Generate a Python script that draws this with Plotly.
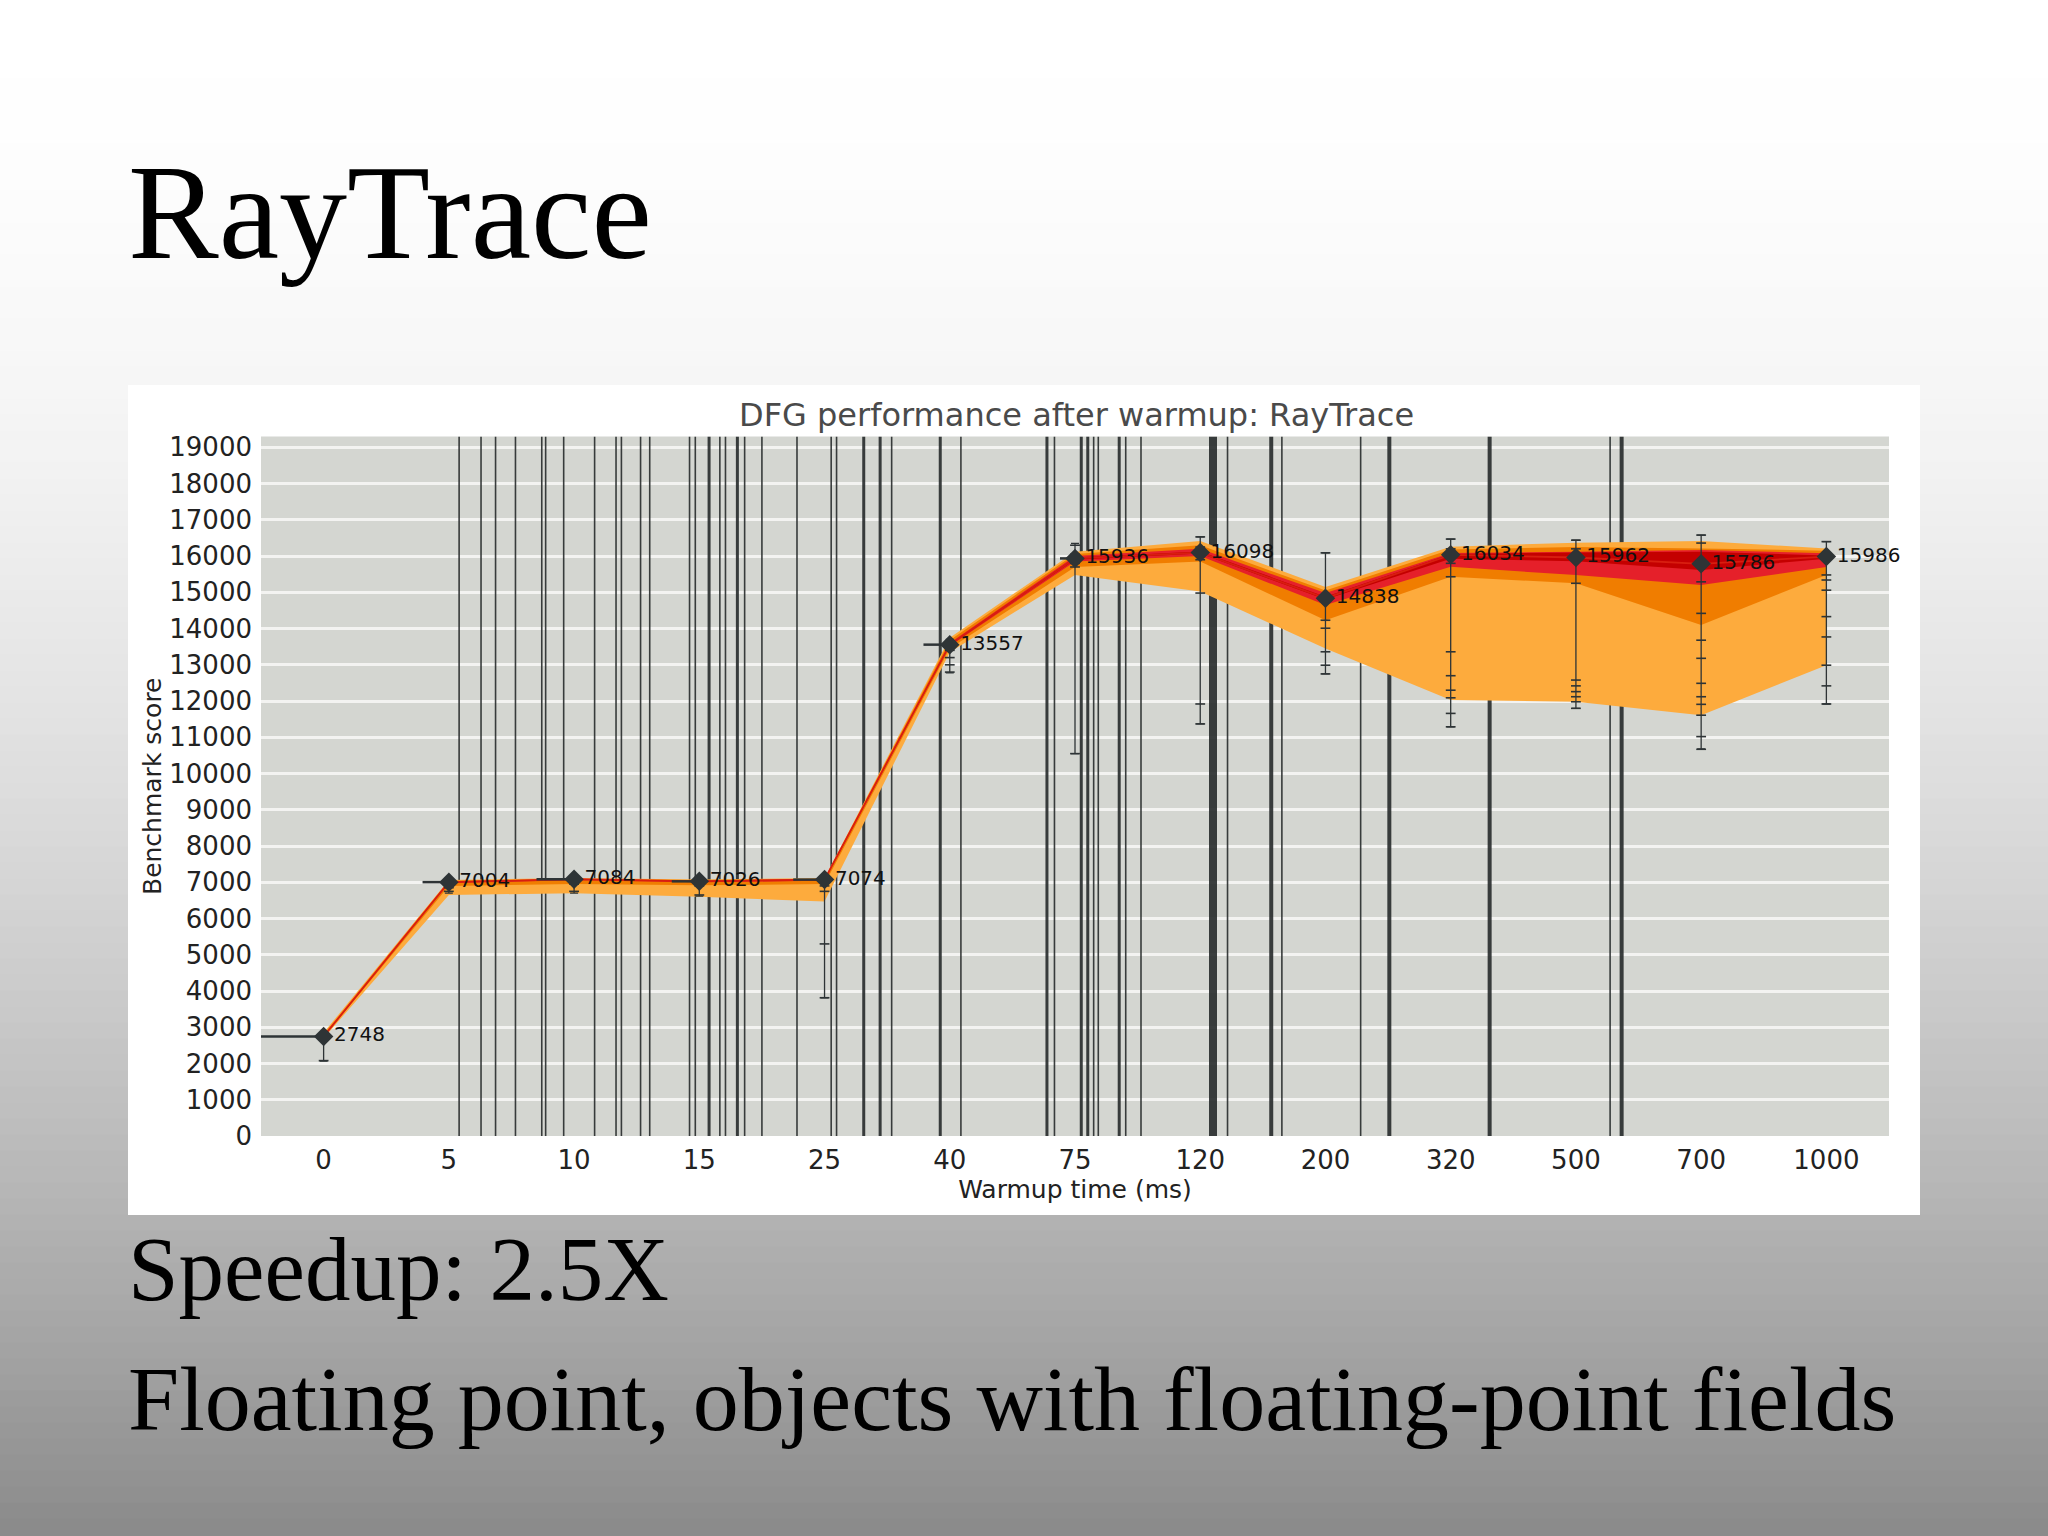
import plotly.graph_objects as go

# ---------------- data ----------------
categories = ["0", "5", "10", "15", "25", "40", "75", "120", "200", "320", "500", "700", "1000"]
mean_score = [2748, 7004, 7084, 7026, 7074, 13557, 15936, 16098, 14838, 16034, 15962, 15786, 15986]

p05 = [2700, 6650, 6700, 6600, 6470, 13350, 15480, 15020, 13450, 12030, 11980, 11610, 12990]
p95 = [2850, 7060, 7120, 7080, 7120, 13750, 16120, 16420, 15150, 16260, 16370, 16420, 16210]
p10 = [2720, 6900, 6950, 6920, 6950, 13450, 15700, 15850, 14230, 15430, 15250, 14100, 15480]
p90 = [2800, 7040, 7100, 7060, 7100, 13680, 16060, 16300, 15050, 16180, 16250, 16212, 16150]
p25 = [2735, 6980, 7060, 7000, 7040, 13520, 15850, 16000, 14650, 15705, 15476, 15200, 15700]
p75 = [2760, 7020, 7100, 7045, 7090, 13600, 16000, 16200, 14980, 16083, 16118, 16166, 16080]
p40 = [2745, 6995, 7075, 7018, 7065, 13550, 15900, 16070, 14800, 15930, 15860, 15614, 15930]
p60 = [2752, 7010, 7092, 7034, 7082, 13565, 15960, 16130, 14880, 16060, 16100, 16118, 16020]

whisk_hi = [2800, 7120, 7140, 7110, 7120, 13700, 16350, 16530, 16090, 16470, 16440, 16580, 16400]
whisk_lo = [2070, 6700, 6700, 6620, 3815, 12780, 10550, 11370, 12750, 11290, 11800, 10680, 11920]
left_span = [0.5, 0.21, 0.30, 0.22, 0.25, 0.21, 0.12, 0, 0, 0, 0, 0, 0]

sample_cat = ([0] * 3 + [1] * 4 + [2] * 3 + [3] * 3 + [4] * 4 + [5] * 4 + [6] * 5 + [7] * 6
              + [8] * 6 + [9] * 10 + [10] * 9 + [11] * 13 + [12] * 10)
sample_val = [2748, 2700, 2080,
              6750, 6850, 6950, 7050,
              6750, 6950, 7100,
              6650, 6900, 7050,
              6750, 6900, 5300, 3815,
              13400, 13200, 13000, 12800,
              16300, 16050, 15800, 15700, 10550,
              16530, 16250, 15900, 14980, 11920, 11370,
              16090, 14230, 14010, 13360, 12990, 12750,
              16470, 16200, 15800, 15430, 13360, 12700, 12300, 12090, 11660, 11290,
              16440, 16200, 15250, 12580, 12420, 12260, 12120, 11980, 11800,
              16580, 16360, 15800, 15290, 14420, 13680, 13180, 12490, 12120, 11910, 11610, 11020, 10670,
              16400, 16080, 15480, 15340, 15060, 14330, 13770, 12990, 12420, 11920]

# event markers (vertical lines) in category-axis units, with relative weight
event_x = [1.082, 1.257, 1.373, 1.532, 1.742, 1.773, 1.917, 2.164, 2.335, 2.378, 2.531, 2.604,
           2.922, 2.968, 3.078, 3.164, 3.209, 3.304, 3.362, 3.500, 3.780, 4.053, 4.096, 4.313,
           4.444, 4.536, 4.924, 5.089, 5.776, 5.836, 6.050, 6.102, 6.149, 6.186, 6.353, 6.405,
           6.527, 7.102, 7.218, 7.567, 7.652, 8.281, 8.510, 9.311, 10.273, 10.365]
event_weight = [1, 1, 1, 1, 1, 1, 1, 1, 1, 1, 1, 1,
                1, 1, 2, 1, 1, 2, 1, 1, 1, 1, 1, 2,
                2, 1, 2, 1, 2, 1, 2, 2, 1, 1, 2, 1,
                1, 5, 1, 3, 1, 1, 3, 3, 1, 3]

y_max = 19300
y_ticks = list(range(0, 19001, 1000))
y_ticktext = [str(v) for v in y_ticks]
chart_title = "DFG performance after warmup: RayTrace"
slide_title = "RayTrace"
slide_line1 = "Speedup: 2.5X"
slide_line2 = "Floating point, objects with floating-point fields"

# ---------------- layout geometry ----------------
W, H = 2048, 1536
def px(x):
    return x / W
def py(y):
    return 1 - y / H

x_dom = [px(261), px(1889)]
y_dom = [py(1136), py(436.5)]

DARK = "#2e3436"
LIGHT_OR = "#fdab3d"
ORANGE = "#f07d00"
RED = "#e5202a"
DRED = "#c40000"
FONT = "DejaVu Sans"
SERIF = "Liberation Serif"

idx = list(range(len(categories)))
fig = go.Figure()

# vertical event lines
width_map = {1: 1.6, 2: 3, 3: 4, 5: 8}
for w in sorted(set(event_weight)):
    xs, ys = [], []
    for ex, ew in zip(event_x, event_weight):
        if ew == w:
            xs += [ex, ex, None]
            ys += [0, y_max, None]
    fig.add_trace(go.Scatter(x=xs, y=ys, mode="lines", hoverinfo="skip",
                             line=dict(color="rgba(38,42,42,0.9)", width=width_map[w]),
                             showlegend=False))

# percentile bands
for lo, hi, col in [(p05, p95, LIGHT_OR), (p10, p90, ORANGE), (p25, p75, RED), (p40, p60, DRED)]:
    fig.add_trace(go.Scatter(x=idx, y=lo, mode="lines", line=dict(width=0, color=col),
                             showlegend=False, hoverinfo="skip"))
    fig.add_trace(go.Scatter(x=idx, y=hi, mode="lines", line=dict(width=0, color=col),
                             fill="tonexty", fillcolor=col, showlegend=False, hoverinfo="skip"))

# mean line
fig.add_trace(go.Scatter(x=idx, y=mean_score, mode="lines",
                         line=dict(color="#d81e10", width=1.8), showlegend=False))

# samples
fig.add_trace(go.Scatter(x=sample_cat, y=sample_val, mode="markers",
                         marker=dict(symbol="line-ew", size=7, color=DARK,
                                     line=dict(width=1.6, color=DARK)),
                         showlegend=False, hoverinfo="skip"))

# markers with whiskers and labels
fig.add_trace(go.Scatter(
    x=idx, y=mean_score, mode="markers+text", cliponaxis=False,
    text=[str(v) for v in mean_score], textposition="middle right",
    textfont=dict(family=FONT, size=20, color="#111111"),
    marker=dict(symbol="diamond", size=15, color=DARK),
    error_y=dict(type="data", symmetric=False,
                 array=[h - m for h, m in zip(whisk_hi, mean_score)],
                 arrayminus=[m - l for m, l in zip(mean_score, whisk_lo)],
                 color=DARK, thickness=1.3, width=4),
    error_x=dict(type="data", symmetric=False, array=[0] * len(idx), arrayminus=left_span,
                 color=DARK, thickness=2.5, width=0),
    showlegend=False))

# ---------------- background shapes ----------------
shapes = []
nb = 96
for i in range(nb):
    y0 = i * H / nb
    y1 = (i + 1) * H / nb
    yc = (y0 + y1) / 2
    c = int(round(255 - 117 * (yc / H) ** 1.85))
    shapes.append(dict(type="rect", xref="paper", yref="paper", layer="below",
                       x0=0, x1=1, y0=py(y1) - 0.001, y1=py(y0) + 0.001,
                       line=dict(width=0), fillcolor=f"rgb({c},{c},{c})"))
shapes.append(dict(type="rect", xref="paper", yref="paper", layer="below",
                   x0=px(128), x1=px(1920), y0=py(1215), y1=py(385),
                   line=dict(width=0), fillcolor="white"))
shapes.append(dict(type="rect", xref="paper", yref="paper", layer="below",
                   x0=x_dom[0], x1=x_dom[1], y0=y_dom[0], y1=y_dom[1],
                   line=dict(width=0), fillcolor="#d4d6d1"))

annotations = [
    dict(text=chart_title, xref="paper", yref="paper", x=px(1076), y=py(415),
         xanchor="center", yanchor="middle", showarrow=False,
         font=dict(family=FONT, size=32, color="#4a4a4a")),
    dict(text=slide_title, xref="paper", yref="paper", x=px(126), y=py(212),
         xanchor="left", yanchor="middle", showarrow=False,
         font=dict(family=SERIF, size=136, color="#000000")),
    dict(text=slide_line1, xref="paper", yref="paper", x=px(126), y=py(1269),
         xanchor="left", yanchor="middle", showarrow=False,
         font=dict(family=SERIF, size=91, color="#000000")),
    dict(text=slide_line2, xref="paper", yref="paper", x=px(126), y=py(1399),
         xanchor="left", yanchor="middle", showarrow=False,
         font=dict(family=SERIF, size=92, color="#000000")),
]

fig.update_layout(
    width=W, height=H,
    margin=dict(l=0, r=0, t=0, b=0),
    paper_bgcolor="white",
    plot_bgcolor="rgba(0,0,0,0)",
    shapes=shapes,
    annotations=annotations,
    showlegend=False,
    xaxis=dict(domain=x_dom, range=[-0.5, 12.5], tickvals=idx, ticktext=categories,
               showgrid=False, zeroline=False, showline=False, ticks="",
               ticklabelstandoff=6, automargin=False,
               tickfont=dict(family=FONT, size=26, color="#222222"),
               title=dict(text="Warmup time (ms)", standoff=0,
                          font=dict(family=FONT, size=25, color="#222222"))),
    yaxis=dict(domain=y_dom, range=[0, y_max], tickvals=y_ticks, ticktext=y_ticktext,
               showgrid=True, gridcolor="#f3f3f1", gridwidth=3, zeroline=False,
               showline=False, ticks="", ticklabelstandoff=8, automargin=False,
               tickfont=dict(family=FONT, size=26, color="#222222"),
               title=dict(text="Benchmark score", standoff=0,
                          font=dict(family=FONT, size=25, color="#222222"))),
)

fig.write_html("out.html", config={"displayModeBar": False},
               post_script="document.body.style.margin='0';")
